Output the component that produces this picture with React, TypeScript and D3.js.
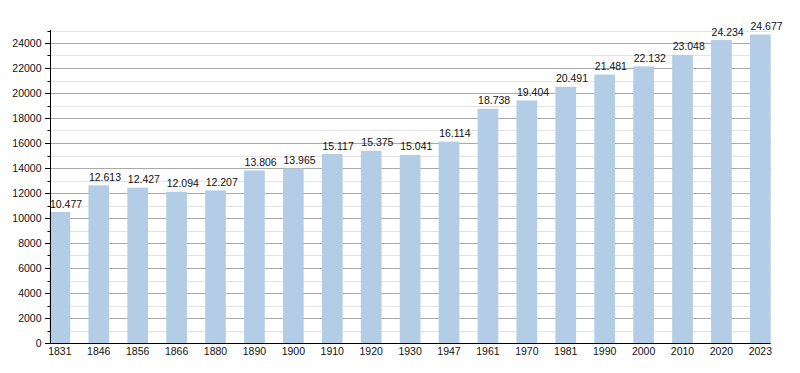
import React, { useEffect, useRef } from 'react';
import * as d3 from 'd3';

const years = ['1831', '1846', '1856', '1866', '1880', '1890', '1900', '1910', '1920', '1930', '1947', '1961', '1970', '1981', '1990', '2000', '2010', '2020', '2023'];
const population = [10477, 12613, 12427, 12094, 12207, 13806, 13965, 15117, 15375, 15041, 16114, 18738, 19404, 20491, 21481, 22132, 23048, 24234, 24677];
const majorTicks = d3.range(0, 24001, 2000);
const minorTicks = d3.range(1000, 25001, 2000);

const width = 800;
const height = 373;

const PopulationChart: React.FC = () => {
  const svgRef = useRef<SVGSVGElement>(null);

  useEffect(() => {
    if (!svgRef.current) return;
    const svg = d3.select(svgRef.current);
    svg.selectAll('*').remove();

    const left = 49.5;
    const right = 770.7;
    const font = 'Liberation Sans, Arial, sans-serif';

    const x = d3.scaleBand<string>()
      .domain(years)
      .range([left, right])
      .paddingInner(0.468)
      .paddingOuter(0);

    const y = d3.scaleLinear()
      .domain([0, 25000])
      .range([343, 30.5]);

    // gridlines
    svg.append('g')
      .selectAll('line')
      .data(minorTicks)
      .enter()
      .append('line')
      .attr('x1', left)
      .attr('x2', right)
      .attr('y1', d => Math.round(y(d)) + 0.5)
      .attr('y2', d => Math.round(y(d)) + 0.5)
      .attr('stroke', '#e3e3e3');

    svg.append('g')
      .selectAll('line')
      .data(majorTicks.filter(d => d > 0))
      .enter()
      .append('line')
      .attr('x1', left)
      .attr('x2', right)
      .attr('y1', d => Math.round(y(d)) + 0.5)
      .attr('y2', d => Math.round(y(d)) + 0.5)
      .attr('stroke', '#a9a9a9');

    // bars
    svg.append('g')
      .selectAll('rect')
      .data(population)
      .enter()
      .append('rect')
      .attr('x', (d, i) => x(years[i]) as number)
      .attr('y', d => y(d))
      .attr('width', x.bandwidth())
      .attr('height', d => y(0) - y(d))
      .attr('fill', '#b3cde6');

    // value labels
    svg.append('g')
      .selectAll('text')
      .data(population)
      .enter()
      .append('text')
      .attr('x', (d, i) => (x(years[i]) as number) + 0.5)
      .attr('y', d => y(d) - 4.5)
      .style('font-family', font)
      .style('font-size', '10.5px')
      .style('fill', '#111')
      .text(d => d3.format(',')(d).replace(/,/g, '.'));

    // y axis
    const yAxis = svg.append('g');
    yAxis.append('line')
      .attr('x1', 50.5).attr('x2', 50.5)
      .attr('y1', 30).attr('y2', 343.5)
      .attr('stroke', '#000');
    yAxis.selectAll('.major')
      .data(majorTicks)
      .enter()
      .append('line')
      .attr('x1', 45)
      .attr('x2', 50.5)
      .attr('y1', d => Math.round(y(d)) + 0.5)
      .attr('y2', d => Math.round(y(d)) + 0.5)
      .attr('stroke', '#000');
    yAxis.selectAll('.minor')
      .data(minorTicks)
      .enter()
      .append('line')
      .attr('x1', 47.5)
      .attr('x2', 50.5)
      .attr('y1', d => Math.round(y(d)) + 0.5)
      .attr('y2', d => Math.round(y(d)) + 0.5)
      .attr('stroke', '#000');
    yAxis.selectAll('text')
      .data(majorTicks)
      .enter()
      .append('text')
      .attr('x', 41.5)
      .attr('y', d => y(d))
      .attr('dy', '0.36em')
      .attr('text-anchor', 'end')
      .style('font-family', font)
      .style('font-size', '10.5px')
      .style('fill', '#111')
      .text(d => String(d));

    // x axis
    const xAxis = svg.append('g');
    xAxis.append('line')
      .attr('x1', 50)
      .attr('x2', right)
      .attr('y1', 343.5)
      .attr('y2', 343.5)
      .attr('stroke', '#000');
    xAxis.selectAll('text')
      .data(years)
      .enter()
      .append('text')
      .attr('x', d => (x(d) as number) + x.bandwidth() / 2)
      .attr('y', 354.5)
      .attr('text-anchor', 'middle')
      .style('font-family', font)
      .style('font-size', '10.5px')
      .style('fill', '#111')
      .text(d => d);
  }, []);

  return (
    <svg
      ref={svgRef}
      width={width}
      height={height}
      style={{ position: 'absolute', left: 0, top: 0, background: '#fff' }}
    />
  );
};

export default function App() {
  return <PopulationChart />;
}
